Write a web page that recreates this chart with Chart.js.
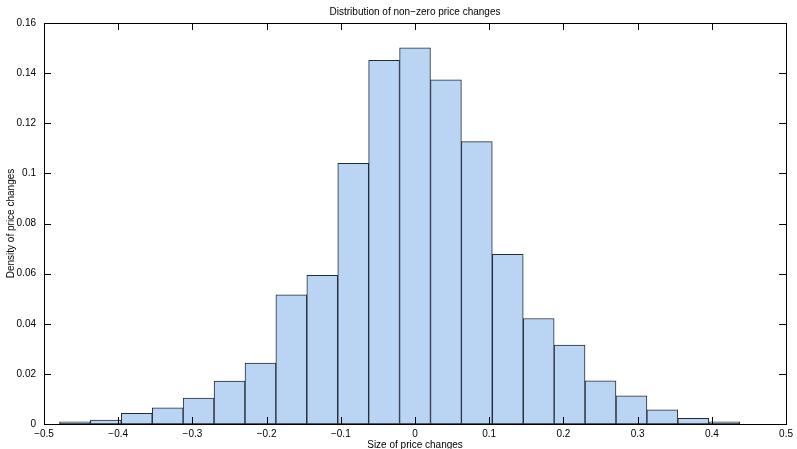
<!DOCTYPE html>
<html>
<head>
<meta charset="utf-8">
<script src="https://cdn.jsdelivr.net/npm/chart.js@4.4.0/dist/chart.umd.min.js"></script>
<style>
  html, body { margin: 0; padding: 0; background: #fff; }
  canvas { display: block; }
</style>
</head>
<body>
<canvas id="histChart" width="797" height="449"></canvas>
<script>
// bin centres (bin width 1/24) and density per bin
const binCenters = [
    -0.4583, -0.4167, -0.375, -0.3333, -0.2917, -0.25, -0.2083, -0.1667, -0.125, -0.0833, -0.0417,
    0, 0.0417, 0.0833, 0.125, 0.1667, 0.2083, 0.25, 0.2917, 0.3333, 0.375, 0.4167
];
const density = [
    0.0009, 0.0016, 0.0043, 0.0065, 0.0103, 0.0171, 0.0243, 0.0515, 0.0593, 0.1040, 0.1451,
    0.1501, 0.1373, 0.1127, 0.0677, 0.0421, 0.0315, 0.0172, 0.0112, 0.0057, 0.0023, 0.0009
];
const xTicks = [-0.5, 0.5, 0.1];   // min, max, step
const yTicks = [0, 0.16, 0.02];

const FONT = "'Liberation Sans', Arial, Helvetica, sans-serif";
const fmtX = v => String(Number(v.toFixed(1))).replace('-', '\u2212');
const fmtY = v => String(Number(v.toFixed(2)));

// box round the plot plus inward tick marks on all four sides
const frame = {
    id: 'frame',
    afterDatasetsDraw(chart) {
        const { ctx, chartArea: a, scales: { x, y } } = chart;
        const len = 7;
        ctx.save();
        ctx.strokeStyle = '#000';
        ctx.lineWidth = 1;
        ctx.beginPath();
        x.ticks.forEach(t => {
            const px = Math.round(x.getPixelForValue(t.value)) + 0.5;
            ctx.moveTo(px, a.bottom); ctx.lineTo(px, a.bottom - len);
            ctx.moveTo(px, a.top); ctx.lineTo(px, a.top + len);
        });
        y.ticks.forEach(t => {
            const py = Math.round(y.getPixelForValue(t.value)) + 0.5;
            ctx.moveTo(a.left, py); ctx.lineTo(a.left + len, py);
            ctx.moveTo(a.right, py); ctx.lineTo(a.right - len, py);
        });
        ctx.stroke();
        ctx.strokeRect(Math.round(a.left) + 0.5, Math.round(a.top) + 0.5,
            Math.round(a.right - a.left), Math.round(a.bottom - a.top));
        ctx.restore();
    }
};

new Chart(document.getElementById('histChart'), {
    type: 'bar',
    data: {
        datasets: [{
            data: binCenters.map((c, i) => ({ x: c, y: density[i] })),
            backgroundColor: '#bad4f4',
            borderColor: '#242a36',
            borderWidth: 1,
            borderSkipped: false,
            barPercentage: 1,
            categoryPercentage: 1
        }]
    },
    options: {
        responsive: false,
        animation: false,
        devicePixelRatio: 1,
        layout: { padding: { left: 0, right: 8, top: 0, bottom: 0 } },
        plugins: {
            legend: { display: false },
            tooltip: { enabled: false },
            title: {
                display: true,
                fullSize: false,
                text: 'Distribution of non\u2212zero price changes',
                color: '#000',
                font: { family: FONT, size: 10, weight: 'normal', lineHeight: 1 },
                padding: { top: 7, bottom: 6 }
            }
        },
        scales: {
            x: {
                type: 'linear',
                min: xTicks[0],
                max: xTicks[1],
                offset: false,
                grid: { display: false, drawTicks: false, offset: false },
                border: { display: false },
                ticks: {
                    stepSize: xTicks[2],
                    autoSkip: false,
                    maxRotation: 0,
                    padding: 4,
                    color: '#000',
                    font: { family: FONT, size: 10 },
                    callback: v => fmtX(v)
                },
                title: {
                    display: true,
                    text: 'Size of price changes',
                    color: '#000',
                    font: { family: FONT, size: 10, lineHeight: 1 },
                    padding: { top: 0, bottom: -1 }
                },
                afterFit: s => { s.height = 25; }
            },
            y: {
                min: yTicks[0],
                max: yTicks[1],
                grid: { display: false, drawTicks: false },
                border: { display: false },
                ticks: {
                    stepSize: yTicks[2],
                    padding: 8,
                    color: '#000',
                    font: { family: FONT, size: 10 },
                    callback: v => fmtY(v)
                },
                title: {
                    display: true,
                    text: 'Density of price changes',
                    color: '#000',
                    font: { family: FONT, size: 10, lineHeight: 1 },
                    padding: { top: 6, bottom: 0 }
                },
                afterFit: s => { s.width = 44; }
            }
        }
    },
    plugins: [frame]
});
</script>
</body>
</html>
